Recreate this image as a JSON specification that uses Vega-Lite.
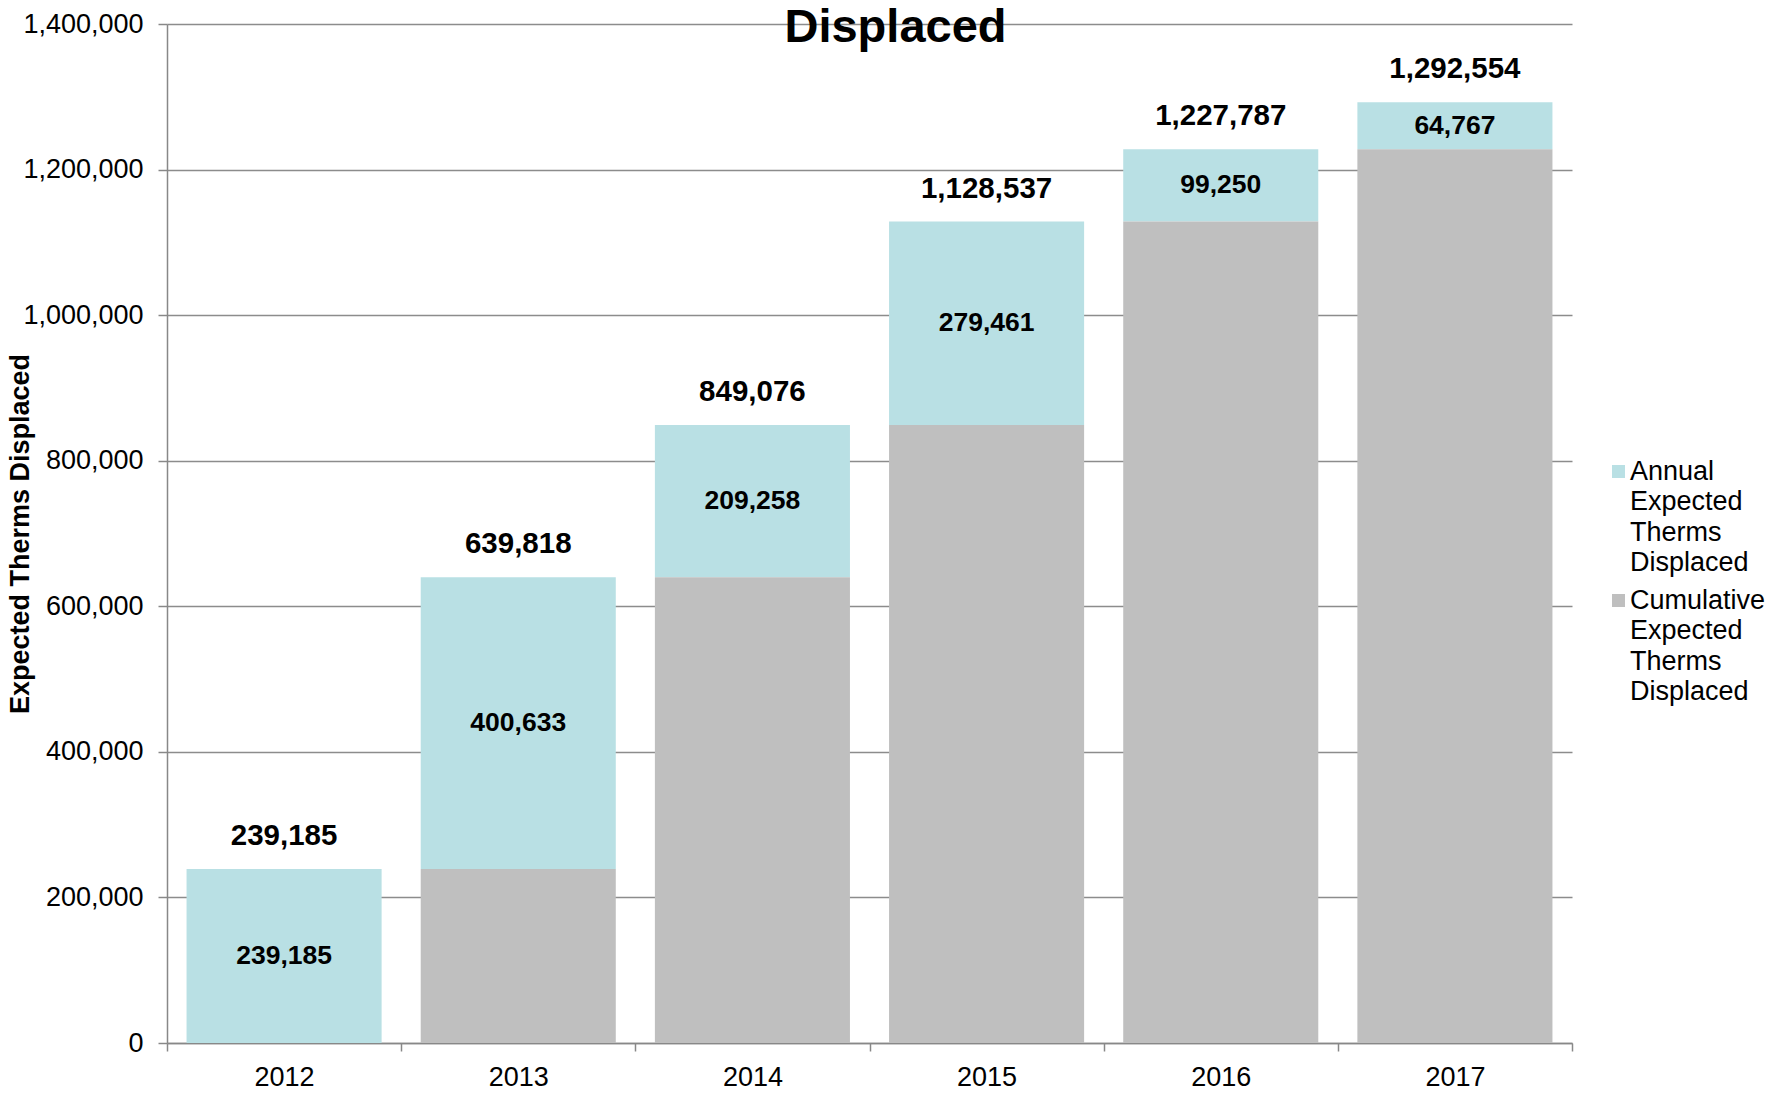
{
  "$schema": "https://vega.github.io/schema/vega-lite/v6.json",
  "width": 1405,
  "height": 1019,
  "autosize": {"type": "none"},
  "padding": {"left": 167, "top": 24, "right": 205, "bottom": 53},
  "background": "white",
  "config": {"font": "Liberation Sans", "view": {"stroke": null}},
  "title": {"text": "Displaced", "fontSize": 47, "fontWeight": "bold", "color": "black", "anchor": "middle", "frame": "group", "baseline": "alphabetic", "offset": 0, "dx": 26, "dy": 79},
  "datasets": {
    "bars": [
      {"year": "2012", "series": "Annual Expected Therms Displaced", "value": 239185},
      {"year": "2012", "series": "Cumulative Expected Therms Displaced", "value": 0},
      {"year": "2013", "series": "Annual Expected Therms Displaced", "value": 400633},
      {"year": "2013", "series": "Cumulative Expected Therms Displaced", "value": 239185},
      {"year": "2014", "series": "Annual Expected Therms Displaced", "value": 209258},
      {"year": "2014", "series": "Cumulative Expected Therms Displaced", "value": 639818},
      {"year": "2015", "series": "Annual Expected Therms Displaced", "value": 279461},
      {"year": "2015", "series": "Cumulative Expected Therms Displaced", "value": 849076},
      {"year": "2016", "series": "Annual Expected Therms Displaced", "value": 99250},
      {"year": "2016", "series": "Cumulative Expected Therms Displaced", "value": 1128537},
      {"year": "2017", "series": "Annual Expected Therms Displaced", "value": 64767},
      {"year": "2017", "series": "Cumulative Expected Therms Displaced", "value": 1227787}
    ],
    "labels": [
      {"year": "2012", "cumulative": 0, "annual": 239185, "total": 239185},
      {"year": "2013", "cumulative": 239185, "annual": 400633, "total": 639818},
      {"year": "2014", "cumulative": 639818, "annual": 209258, "total": 849076},
      {"year": "2015", "cumulative": 849076, "annual": 279461, "total": 1128537},
      {"year": "2016", "cumulative": 1128537, "annual": 99250, "total": 1227787},
      {"year": "2017", "cumulative": 1227787, "annual": 64767, "total": 1292554}
    ]
  },
  "layer": [
    {
      "data": {"name": "bars"},
      "mark": {"type": "bar", "width": {"band": 0.833}},
      "encoding": {
        "x": {
          "field": "year", "type": "nominal",
          "scale": {"paddingInner": 0, "paddingOuter": 0},
          "axis": {
            "title": null, "labelAngle": 0, "labelFontSize": 27, "labelColor": "black",
            "labelPadding": 13, "tickSize": 8, "tickBand": "extent",
            "tickColor": "#888888", "tickWidth": 1.5, "domainColor": "#888888", "domainWidth": 1.5, "grid": false
          }
        },
        "y": {
          "field": "value", "type": "quantitative", "stack": "zero",
          "scale": {"domain": [0, 1400000], "nice": false},
          "axis": {
            "title": "Expected Therms Displaced", "titleFontSize": 27, "titleFontWeight": "bold", "titleColor": "black",
            "titleX": -147, "titleY": 509.5, "titleAngle": -90, "titleAlign": "center", "titleBaseline": "middle",
            "values": [0, 200000, 400000, 600000, 800000, 1000000, 1200000, 1400000],
            "format": ",d", "labelFontSize": 27, "labelColor": "black", "labelPadding": 15,
            "tickSize": 9, "tickColor": "#888888", "tickWidth": 1.5,
            "domainColor": "#888888", "domainWidth": 1.5,
            "grid": true, "gridColor": "#8c8c8c", "gridWidth": 1.5
          }
        },
        "color": {
          "field": "series", "type": "nominal",
          "scale": {"domain": ["Annual Expected Therms Displaced", "Cumulative Expected Therms Displaced"], "range": ["#B9E0E4", "#BFBFBF"]},
          "legend": {
            "title": null, "orient": "none", "legendX": 1438, "legendY": 434, "padding": 0,
            "symbolType": "square", "symbolSize": 169, "symbolStrokeWidth": 0,
            "labelFontSize": 27, "labelColor": "black", "labelBaseline": "middle", "labelOffset": -2,
            "labelExpr": "split(datum.label, ' ')", "labelLimit": 300, "rowPadding": 10,
            "encoding": {"labels": {"lineHeight": {"value": 30.5}}}
          }
        },
        "order": {"field": "series", "sort": "descending"}
      }
    },
    {
      "data": {"name": "labels"},
      "mark": {"type": "text", "fontSize": 29.5, "fontWeight": "bold", "color": "black", "baseline": "alphabetic", "dy": -24},
      "encoding": {
        "x": {"field": "year", "type": "nominal"},
        "y": {"field": "total", "type": "quantitative"},
        "text": {"field": "total", "type": "quantitative", "format": ",d"}
      }
    },
    {
      "data": {"name": "labels"},
      "transform": [
        {"fold": ["cumulative", "total"], "as": ["edge", "v"]},
        {"aggregate": [{"op": "mean", "field": "v", "as": "mid"}], "groupby": ["year", "annual"]}
      ],
      "mark": {"type": "text", "fontSize": 26.5, "fontWeight": "bold", "color": "black", "baseline": "middle"},
      "encoding": {
        "x": {"field": "year", "type": "nominal"},
        "y": {"field": "mid", "type": "quantitative"},
        "text": {"field": "annual", "type": "quantitative", "format": ",d"}
      }
    }
  ]
}
